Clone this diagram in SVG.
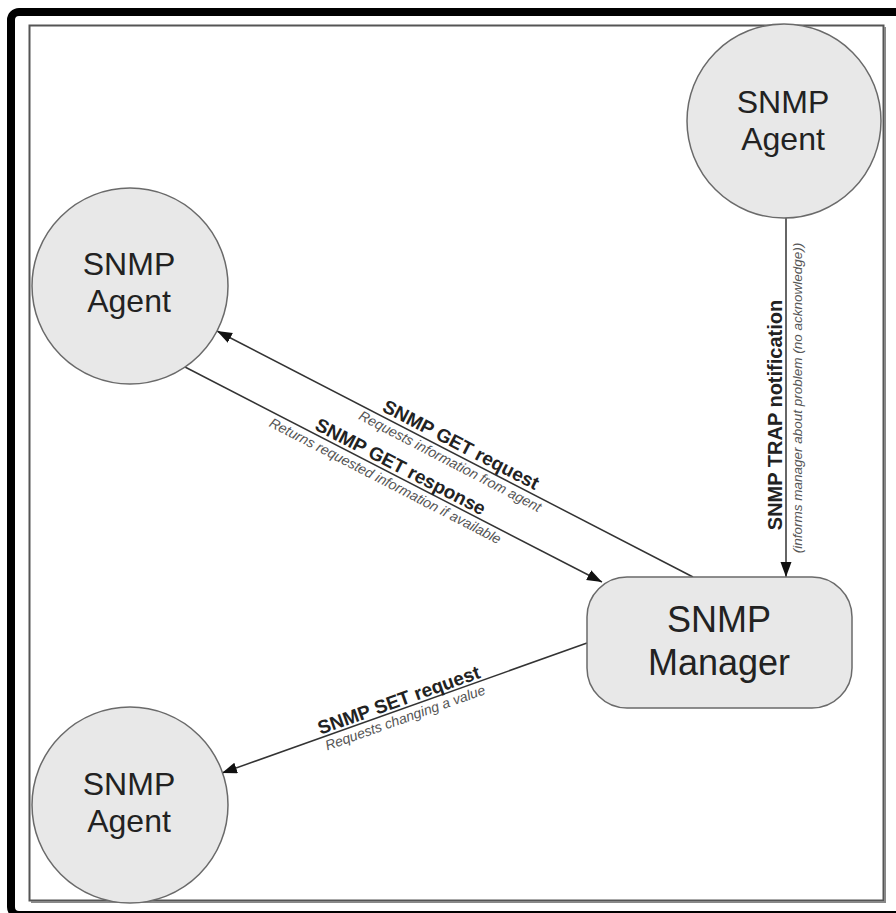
<svg xmlns="http://www.w3.org/2000/svg" width="896" height="913" viewBox="0 0 896 913">
  <style>
    .node { fill: #e8e8e8; stroke: #6a6a6a; stroke-width: 1.5; }
    .label { font-family: "Liberation Sans", Arial, sans-serif; fill: #222; text-anchor: middle; }
    .conn { stroke: #333; stroke-width: 1.5; fill: none; marker-end: url(#arrow); }
    .title { font-family: "Liberation Sans", Arial, sans-serif; font-weight: bold; font-size: 19px; fill: #222; text-anchor: middle; }
    .sub { font-family: "Liberation Sans", Arial, sans-serif; font-style: italic; font-size: 14px; fill: #555; text-anchor: middle; }
  </style>
  <defs>
    <marker id="arrow" markerUnits="userSpaceOnUse" markerWidth="16" markerHeight="12" refX="15" refY="5.5" orient="auto">
      <path d="M0,0 L15,5.5 L0,11 z" fill="#111"/>
    </marker>
  </defs>

  <!-- page background and frames -->
  <rect x="0" y="0" width="896" height="913" fill="#fff"/>
  <rect x="11" y="12" width="920" height="903" rx="8" fill="none" stroke="#000" stroke-width="8"/>
  <rect x="29.5" y="25.5" width="854" height="875" fill="#fff" stroke="#555" stroke-width="2"/>
  <path d="M31,902 H885 V27" fill="none" stroke="#888" stroke-width="2"/>

  <!-- connectors -->
  <g id="connectors">
    <line class="conn" x1="693" y1="577" x2="217" y2="331"/>
    <line class="conn" x1="185" y1="367" x2="602" y2="582"/>
    <line class="conn" x1="786" y1="217" x2="786" y2="577"/>
    <line class="conn" x1="587" y1="643" x2="222" y2="773"/>

    <g transform="translate(458,455) rotate(27.4)">
      <text class="title" x="-2" y="-4">SNMP GET request</text>
      <text class="sub" x="-4" y="14">Requests information from agent</text>
    </g>
    <g transform="translate(394,475) rotate(27.3)">
      <text class="title" x="2" y="-4">SNMP GET response</text>
      <text class="sub" x="-5" y="14">Returns requested information if available</text>
    </g>
    <g transform="translate(786,415) rotate(-90)">
      <text class="title" x="0" y="-4" style="font-size:20px">SNMP TRAP notification</text>
      <text class="sub" x="17" y="16" style="font-size:13.5px">(informs manager about problem (no acknowledge))</text>
    </g>
    <g transform="translate(402,709) rotate(-19.6)">
      <text class="title" x="0" y="-3">SNMP SET request</text>
      <text class="sub" x="0" y="14">Requests changing a value</text>
    </g>
  </g>

  <!-- nodes -->
  <g id="agent-top">
    <circle class="node" cx="784" cy="121" r="97"/>
    <text class="label" x="783" y="113" font-size="32">SNMP</text>
    <text class="label" x="783" y="150" font-size="32">Agent</text>
  </g>
  <g id="agent-left">
    <circle class="node" cx="130" cy="286" r="98"/>
    <text class="label" x="129" y="275" font-size="32">SNMP</text>
    <text class="label" x="129" y="312" font-size="32">Agent</text>
  </g>
  <g id="agent-bottom">
    <circle class="node" cx="130" cy="805" r="98"/>
    <text class="label" x="129" y="795" font-size="32">SNMP</text>
    <text class="label" x="129" y="832" font-size="32">Agent</text>
  </g>
  <g id="manager">
    <rect class="node" x="587" y="577" width="265" height="131" rx="40"/>
    <text class="label" x="719" y="632" font-size="36">SNMP</text>
    <text class="label" x="719" y="675" font-size="36">Manager</text>
  </g>
</svg>
